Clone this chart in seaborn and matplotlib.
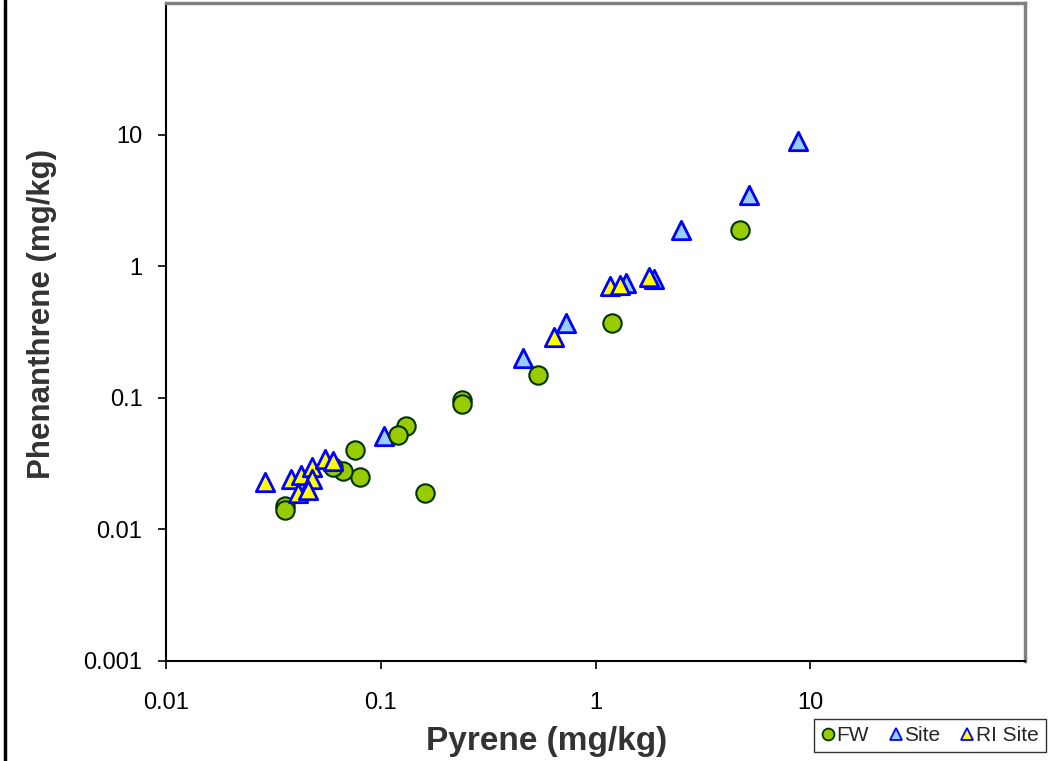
import matplotlib
matplotlib.use("Agg")
import matplotlib.pyplot as plt
from matplotlib.lines import Line2D
import seaborn as sns
import pandas as pd

# ---- data ----
fw_x = [4.7, 1.19, 0.54, 0.24, 0.24, 0.131, 0.12, 0.16, 0.076, 0.080, 0.067, 0.060, 0.036, 0.036]
fw_y = [1.9, 0.37, 0.15, 0.097, 0.089, 0.061, 0.052, 0.019, 0.040, 0.025, 0.028, 0.030, 0.015, 0.014]

site_x = [8.8, 5.2, 2.5, 1.38, 1.88, 0.73, 0.46, 0.104]
site_y = [8.9, 3.5, 1.9, 0.75, 0.80, 0.37, 0.20, 0.051]

ri_x = [1.17, 1.3, 1.78, 0.64, 0.029, 0.038, 0.0425, 0.048, 0.048, 0.041, 0.046, 0.055, 0.060]
ri_y = [0.71, 0.72, 0.83, 0.29, 0.023, 0.024, 0.026, 0.030, 0.024, 0.019, 0.020, 0.034, 0.033]

series_names = ["FW", "Site", "RI Site"]
x_ticks = [0.01, 0.1, 1, 10]
x_tick_labels = ["0.01", "0.1", "1", "10"]
y_ticks = [0.001, 0.01, 0.1, 1, 10]
y_tick_labels = ["0.001", "0.01", "0.1", "1", "10"]

df = pd.concat([
    pd.DataFrame({"Pyrene": fw_x, "Phenanthrene": fw_y, "Series": "FW"}),
    pd.DataFrame({"Pyrene": site_x, "Phenanthrene": site_y, "Series": "Site"}),
    pd.DataFrame({"Pyrene": ri_x, "Phenanthrene": ri_y, "Series": "RI Site"}),
], ignore_index=True)

sns.set_theme(style="white")
plt.rcParams["font.family"] = ["Liberation Sans", "DejaVu Sans"]

fig = plt.figure(figsize=(10.54, 7.61), dpi=100)
ax = fig.add_axes([166/1054, 1 - 661/761, (1025-166)/1054, (661-3)/761])

styles = {
    "FW": dict(marker="o", fc="#99CC00", ec="#003300", lw=1.5),
    "Site": dict(marker="^", fc="#99CCFF", ec="#0000FF", lw=2.0),
    "RI Site": dict(marker="^", fc="#FFFF00", ec="#0000FF", lw=2.0),
}

# drawing order: Site, FW, RI Site
for name in ["Site", "FW", "RI Site"]:
    st = styles[name]
    sub = df[df["Series"] == name]
    sns.scatterplot(data=sub, x="Pyrene", y="Phenanthrene", ax=ax,
                    marker=st["marker"], s=175, color=st["fc"],
                    edgecolor=st["ec"], linewidth=st["lw"], legend=False,
                    zorder=3)

ax.set_xscale("log")
ax.set_yscale("log")
ax.set_xlim(0.01, 100)
ax.set_ylim(0.001, 100)
ax.set_xticks(x_ticks)
ax.set_xticklabels(x_tick_labels)
ax.set_yticks(y_ticks)
ax.set_yticklabels(y_tick_labels)
ax.minorticks_off()
ax.tick_params(axis="both", which="major", direction="out", length=6, width=1.2,
               color="black", labelsize=17, labelcolor="black", bottom=True, left=True)
ax.tick_params(axis="x", pad=16)
ax.tick_params(axis="y", pad=11)

for side in ["left", "bottom"]:
    ax.spines[side].set_color("black")
    ax.spines[side].set_linewidth(1.5)
for side in ["top", "right"]:
    ax.spines[side].set_color("#808080")
    ax.spines[side].set_linewidth(2.5)

ax.set_xlabel("Pyrene (mg/kg)", fontsize=24, fontweight="bold", color="#333333")
ax.set_ylabel("Phenanthrene (mg/kg)", fontsize=22.5, fontweight="bold", color="#333333")
ax.xaxis.set_label_coords((547-166)/859, -(726-661)/658)
ax.yaxis.set_label_coords((57-166)/859, (661-314)/658)

handles = []
for name in series_names:
    st = styles[name]
    handles.append(Line2D([], [], linestyle="none", marker=st["marker"], markersize=8.5,
                          markerfacecolor=st["fc"], markeredgecolor=st["ec"],
                          markeredgewidth=1.3))
leg = fig.legend(handles, series_names, loc="center", ncol=3,
                 bbox_to_anchor=(930/1054, 1 - 735.5/761), fontsize=15,
                 frameon=True, fancybox=False, handlelength=0.6, handletextpad=0.1,
                 columnspacing=1.0, borderpad=0.35)
leg.get_frame().set_edgecolor("black")
leg.get_frame().set_linewidth(1.0)

# left border line of the figure
fig.add_artist(Line2D([5/1054, 5/1054], [0, 1], transform=fig.transFigure,
                      color="black", linewidth=2.5))

fig.savefig("out.png", dpi=100)
